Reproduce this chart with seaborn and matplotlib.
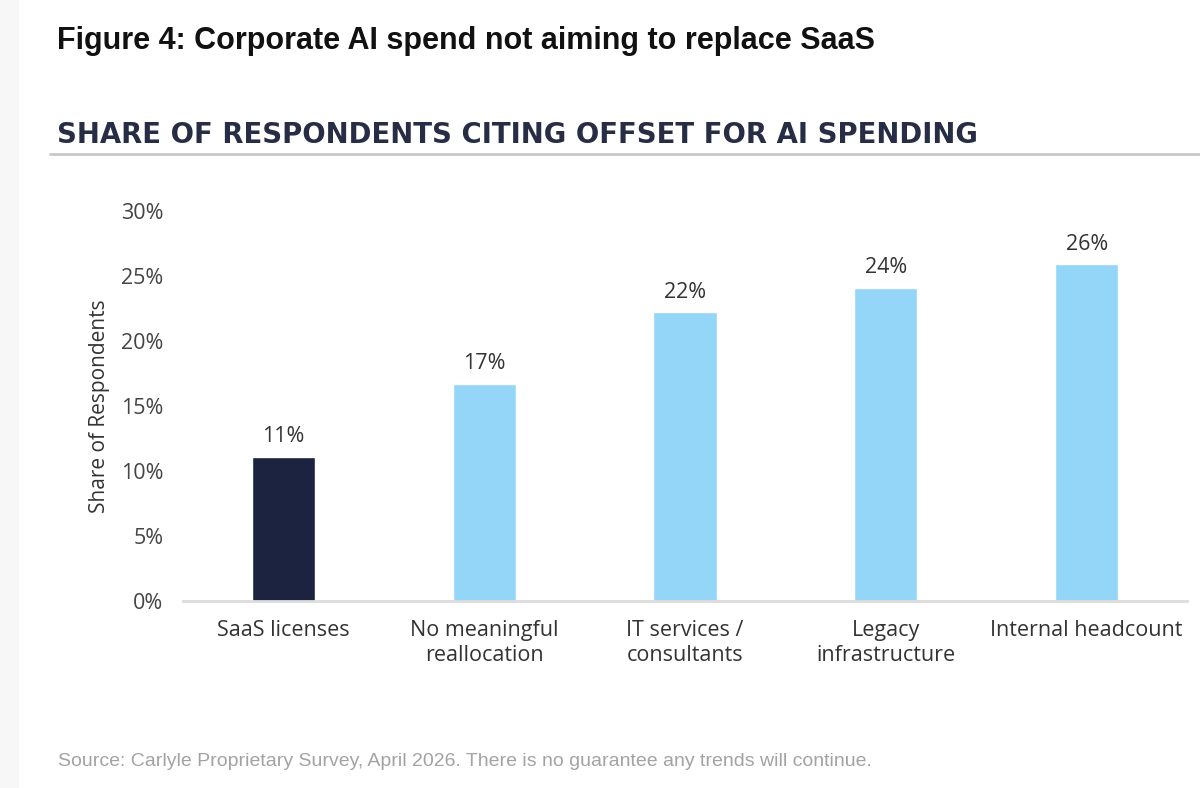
import matplotlib
matplotlib.use("Agg")
import matplotlib.pyplot as plt
import seaborn as sns
import pandas as pd
from matplotlib.patches import Rectangle
from matplotlib.lines import Line2D

# data
categories = ["SaaS licenses", "No meaningful\nreallocation", "IT services /\nconsultants",
              "Legacy\ninfrastructure", "Internal headcount"]
shares = [11.1, 16.7, 22.2, 24.1, 25.9]
bar_colors = ["#1b2341", "#94d6f8", "#94d6f8", "#94d6f8", "#94d6f8"]
yticks = [0, 5, 10, 15, 20, 25, 30]

df = pd.DataFrame({"category": categories, "share": shares})

sns.set_theme(style="white")
plt.rcParams["font.family"] = ["Open Sans", "DejaVu Sans"]

fig = plt.figure(figsize=(12, 7.88), dpi=100)
ax = fig.add_axes([0.1525, 0.2373, 0.8367, 0.4949])

sns.barplot(data=df, x="category", y="share", hue="category", palette=bar_colors,
            width=0.315, legend=False, ax=ax, saturation=1)

for i, v in enumerate(shares):
    ax.text(i, v + 0.75, f"{round(v)}%", ha="center", va="bottom",
            fontsize=15.5, color="#333333")

ax.set_xlim(-0.5, 4.5)
ax.set_ylim(0, 30)
ax.set_yticks(yticks)
ax.set_yticklabels([f"{t}%" for t in yticks], fontsize=15.5, color="#444444")
ax.tick_params(axis="x", labelsize=15.5, labelcolor="#333333", pad=14, length=0)
ax.tick_params(axis="y", pad=14, length=0)
ax.set_xlabel("")
ax.set_ylabel("Share of Respondents", fontsize=15, color="#333333", labelpad=8)
for s in ["top", "right", "left"]:
    ax.spines[s].set_visible(False)
ax.spines["bottom"].set_color("#dcdcdc")
ax.spines["bottom"].set_linewidth(2)
for lbl in ax.get_xticklabels():
    lbl.set_linespacing(1.2)

# light strip on the left edge
fig.patches.append(Rectangle((0, 0), 18 / 1200, 1, transform=fig.transFigure,
                             color="#f7f7f7", zorder=0))

fig.text(57 / 1200, 1 - 49 / 788, "Figure 4: Corporate AI spend not aiming to replace SaaS",
         fontsize=22, fontweight="bold", color="#111111", va="baseline",
         family=["Liberation Sans", "DejaVu Sans"])
fig.text(57 / 1200, 1 - 143 / 788, "SHARE OF RESPONDENTS CITING OFFSET FOR AI SPENDING",
         fontsize=19.8, fontweight="bold", color="#272d45", va="baseline",
         family=["DejaVu Sans"])
fig.lines.append(Line2D([50 / 1200, 1], [1 - 154 / 788, 1 - 154 / 788],
                        transform=fig.transFigure, color="#c8c8c8", linewidth=2))
fig.text(58 / 1200, 1 - 766 / 788,
         "Source: Carlyle Proprietary Survey, April 2026. There is no guarantee any trends will continue.",
         fontsize=14, color="#a3a3a3", va="baseline",
         family=["Liberation Sans", "DejaVu Sans"])

fig.savefig("out.png", dpi=100)
